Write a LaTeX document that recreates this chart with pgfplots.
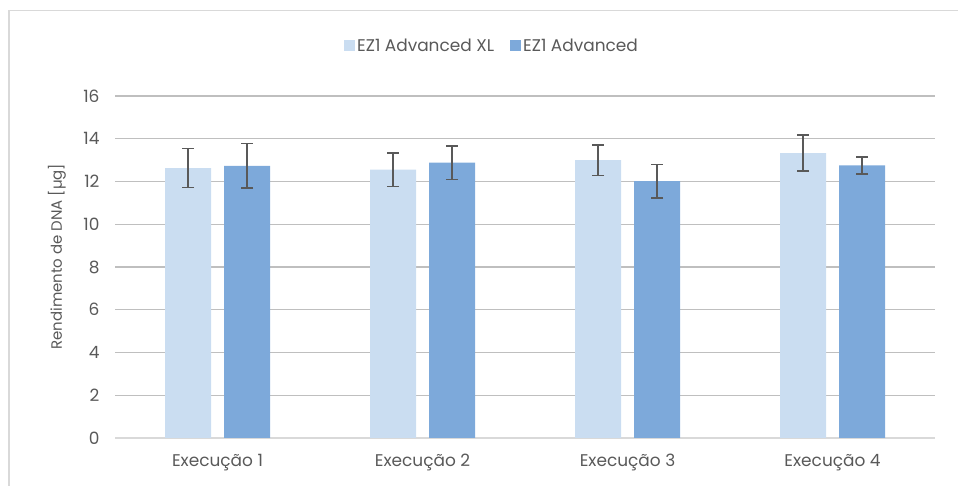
\documentclass[border=0pt]{standalone}
\usepackage{pgfplots}
\pgfplotsset{compat=1.18}
\usepackage{fontspec}
\setmainfont{Poppins}
\definecolor{txt}{HTML}{595959}
\definecolor{grid}{HTML}{D9D9D9}
\definecolor{cl}{HTML}{CADDF1}
\definecolor{cd}{HTML}{7DA9DA}
\definecolor{eb}{HTML}{595959}
\begin{document}
\begin{tikzpicture}[x=1bp,y=1bp]
\useasboundingbox (0,0) rectangle (958,486);
\draw[grid, line width=1.5bp] (9,0) -- (9,475.5) -- (958,475.5);
\begin{axis}[
  at={(115bp,48bp)}, anchor=south west,
  scale only axis, width=820bp, height=342bp,
  xmin=-0.5, xmax=3.5, ymin=0, ymax=16,
  ytick={0,2,...,16},
  xtick=data,
  xticklabels={Execução 1,Execução 2,Execução 3,Execução 4},
  ybar=13bp, bar width=46bp,
  axis x line*=bottom, axis y line*=left,
  x axis line style={grid, line width=1.5bp, -},
  y axis line style={draw=none},
  xmajorgrids=false, ymajorgrids=true, grid style={grid, line width=1.2bp},
  major tick length=0pt,
  tick label style={font=\fontsize{17}{20}\selectfont, text=txt},
  /pgf/number format/assume math mode=true,
  xticklabel style={yshift=-13bp},
  yticklabel style={xshift=-12bp},
  ylabel={Rendimento de DNA [µg]},
  ylabel style={font=\fontsize{15}{18}\selectfont, text=txt, at={(axis description cs:-0.0707,0.53)}, anchor=center},
  legend style={at={(0.5,1)}, anchor=center, xshift=-33bp, yshift=50bp, draw=none, fill=none,
    legend columns=2, font=\fontsize{17}{20}\selectfont, text=txt,
    /tikz/every even column/.append style={column sep=14bp}},
  legend image code/.code={\fill[#1, draw=none] (0bp,-5.5bp) rectangle (11bp,5.5bp);},
  error bars/error bar style={eb, line width=1.6bp},
  error bars/error mark options={eb, rotate=90, mark size=6bp, line width=1.6bp},
  clip=false,
]
\addplot[fill=cl, draw=none, error bars/.cd, y dir=both, y explicit] coordinates {
  (0,12.63) +- (0,0.91)
  (1,12.55) +- (0,0.78)
  (2,13.00) +- (0,0.72)
  (3,13.33) +- (0,0.85)
};
\addplot[fill=cd, draw=none, error bars/.cd, y dir=both, y explicit] coordinates {
  (0,12.73) +- (0,1.04)
  (1,12.88) +- (0,0.79)
  (2,12.02) +- (0,0.78)
  (3,12.75) +- (0,0.39)
};
\legend{EZ1 Advanced XL, EZ1 Advanced}
\end{axis}
\end{tikzpicture}
\end{document}
